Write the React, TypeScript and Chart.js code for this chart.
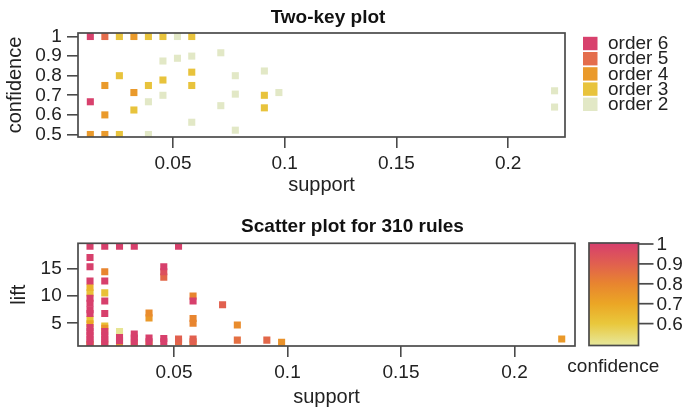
import React, { useEffect, useRef } from 'react';
import { Chart, registerables } from 'chart.js';

Chart.register(...registerables);

const FONT = '"Liberation Sans", Arial, Helvetica, sans-serif';
const TEXT = '#222222';
const AXIS = '#4a4a4a';

// ---------- Two-key plot ----------
const orderLabels = ['order 6', 'order 5', 'order 4', 'order 3', 'order 2'];
const orderValues = [6, 5, 4, 3, 2];
const orderColors = ['#d8416d', '#e46d4c', '#ea9a2b', '#e8c33c', '#e2e8c6'];

const twoKeySupport = [
  0.013, 0.0195, 0.026, 0.0325, 0.039, 0.0455, 0.052, 0.0584,
  0.0714, 0.052, 0.0455, 0.0584, 0.026, 0.0584, 0.0779, 0.0195,
  0.039, 0.0455, 0.0584, 0.0325, 0.0779, 0.0455, 0.039, 0.013,
  0.0325, 0.0714, 0.0195, 0.0584, 0.0779, 0.013, 0.0195, 0.026,
  0.039, 0.0909, 0.0909, 0.0909, 0.0974, 0.2208, 0.2208,
];
const twoKeyConfidence = [
  1, 1, 1, 1, 1, 1, 1, 1,
  0.917, 0.889, 0.875, 0.9, 0.8, 0.818, 0.8, 0.75,
  0.75, 0.778, 0.75, 0.714, 0.706, 0.7, 0.667, 0.667,
  0.625, 0.647, 0.6, 0.5625, 0.522, 0.5, 0.5, 0.5,
  0.5, 0.824, 0.7, 0.636, 0.714, 0.723, 0.64,
];
const twoKeyOrder = [
  6, 5, 3, 4, 3, 3, 2, 3,
  2, 2, 2, 2, 3, 3, 2, 4,
  3, 3, 3, 4, 2, 2, 2, 6,
  3, 2, 4, 2, 2, 4, 4, 3,
  2, 2, 3, 3, 2, 2, 2,
];

// ---------- Scatter plot for 310 rules ----------
const scatterSupport = [
  0.013, 0.013, 0.013, 0.013, 0.013, 0.013, 0.013, 0.013, 0.013, 0.013, 0.013, 0.013, 0.013, 0.013, 0.013, 0.013, 0.013, 0.013, 0.013,
  0.0195, 0.0195, 0.0195, 0.0195, 0.0195, 0.0195, 0.0195, 0.0195, 0.0195, 0.0195, 0.0195, 0.0195, 0.0195,
  0.026, 0.026, 0.026, 0.026, 0.026,
  0.0325, 0.0325, 0.0325, 0.0325, 0.0325,
  0.039, 0.039, 0.039, 0.039, 0.039,
  0.0455, 0.0455, 0.0455, 0.0455, 0.0455,
  0.052, 0.052, 0.052,
  0.0584, 0.0584, 0.0584, 0.0584, 0.0584, 0.0584, 0.0584,
  0.0714,
  0.0779, 0.0779,
  0.0909,
  0.0974,
  0.2208,
];
const scatterLift = [
  19.2, 17.1, 15.4, 12.8, 11.6, 10.6, 9.6, 8.7, 7.5, 6.8, 5.7, 4.9, 4.2, 3.5, 2.8, 2.1, 1.5, 1.05, 1.0,
  19.2, 14.5, 12.8, 10.6, 9.1, 6.8, 4.5, 4.1, 3.5, 2.8, 2.1, 1.5, 1.05,
  19.2, 3.5, 2.4, 1.8, 1.05,
  19.2, 3.0, 2.3, 1.6, 1.05,
  6.9, 6.0, 2.3, 1.6, 1.05,
  15.4, 14.5, 13.5, 2.2, 1.6,
  19.2, 2.1, 1.6,
  10.0, 9.1, 5.9, 5.0, 2.1, 1.6, 1.05,
  8.4,
  4.7, 1.9,
  1.9,
  1.5,
  2.1,
];
const scatterConfidence = [
  1, 1, 1, 1, 0.66, 0.62, 1, 1, 1, 1, 0.62, 0.7, 1, 1, 1, 1, 1, 0.75, 0.72,
  1, 0.8, 1, 0.62, 1, 1, 0.62, 0.75, 1, 1, 1, 1, 0.8,
  1, 0.5, 1, 1, 0.72,
  1, 1, 1, 1, 0.66,
  0.78, 0.74, 1, 1, 0.7,
  1, 0.95, 0.88, 1, 1,
  1, 0.9, 0.88,
  0.8, 1, 0.8, 0.8, 0.9, 0.9, 0.62,
  0.9,
  0.78, 0.86,
  0.88,
  0.76,
  0.74,
];

// ---------- ticks / scales ----------
const supportTicks = [0.05, 0.1, 0.15, 0.2];
const supportTickLabels = ['0.05', '0.1', '0.15', '0.2'];
const confidenceTicks = [0.5, 0.6, 0.7, 0.8, 0.9, 1];
const confidenceTickLabels = ['0.5', '0.6', '0.7', '0.8', '0.9', '1'];
const liftTicks = [5, 10, 15];
const liftTickLabels = ['5', '10', '15'];
const colorbarTicks = [1, 0.9, 0.8, 0.7, 0.6];
const colorbarTickLabels = ['1', '0.9', '0.8', '0.7', '0.6'];
const confStops = [0.5, 0.6, 0.7, 0.8, 0.9, 1.0];
const confStopColors = ['#e7e594', '#e9c83c', '#eba625', '#e8852f', '#e1604f', '#d7406c'];

function hexToRgb(h: string): number[] {
  const n = parseInt(h.slice(1), 16);
  return [(n >> 16) & 255, (n >> 8) & 255, n & 255];
}
function confColor(v: number): string {
  if (v <= confStops[0]) return confStopColors[0];
  for (let i = 1; i < confStops.length; i++) {
    if (v <= confStops[i]) {
      const t = (v - confStops[i - 1]) / (confStops[i] - confStops[i - 1]);
      const a = hexToRgb(confStopColors[i - 1]);
      const b = hexToRgb(confStopColors[i]);
      const c = a.map((x, k) => Math.round(x + (b[k] - x) * t));
      return `rgb(${c[0]},${c[1]},${c[2]})`;
    }
  }
  return confStopColors[confStops.length - 1];
}

const decorPlugin = {
  id: 'decor',
  afterDraw(chart: any, _args: any, opts: any) {
    const { ctx, chartArea: a } = chart;
    ctx.save();
    ctx.strokeStyle = AXIS;
    ctx.lineWidth = 1.7;
    ctx.strokeRect(a.left, a.top, a.right - a.left, a.bottom - a.top);

    ctx.fillStyle = '#111';
    ctx.font = `bold 19px ${FONT}`;
    ctx.textAlign = 'center';
    ctx.textBaseline = 'alphabetic';
    ctx.fillText(opts.title, opts.titleX, opts.titleY);

    if (opts.legend) {
      ctx.font = `19px ${FONT}`;
      ctx.textAlign = 'left';
      ctx.textBaseline = 'middle';
      orderLabels.forEach((lab, i) => {
        const cy = 43.5 + i * 15.2;
        ctx.fillStyle = orderColors[i];
        ctx.fillRect(583, cy - 6.7, 14.5, 13.4);
        ctx.fillStyle = TEXT;
        ctx.fillText(lab, 608, cy + 0.5);
      });
    }

    if (opts.colorbar) {
      const L = 589, R = 638.5, T = 38, B = 140.5;
      const vTop = 1.005, vBot = 0.49;
      const pos = (v: number) => T + ((vTop - v) / (vTop - vBot)) * (B - T);
      const grad = ctx.createLinearGradient(0, T, 0, B);
      grad.addColorStop(0, confStopColors[confStops.length - 1]);
      confStops.forEach((v, i) => {
        const off = Math.min(1, Math.max(0, (vTop - v) / (vTop - vBot)));
        grad.addColorStop(off, confStopColors[i]);
      });
      grad.addColorStop(1, confStopColors[0]);
      ctx.fillStyle = grad;
      ctx.fillRect(L, T, R - L, B - T);
      ctx.strokeStyle = AXIS;
      ctx.lineWidth = 1.7;
      ctx.strokeRect(L, T, R - L, B - T);
      ctx.font = `19px ${FONT}`;
      ctx.fillStyle = TEXT;
      ctx.textAlign = 'left';
      ctx.textBaseline = 'middle';
      colorbarTicks.forEach((v, i) => {
        const y = pos(v);
        ctx.beginPath();
        ctx.moveTo(R, y);
        ctx.lineTo(R + 15, y);
        ctx.stroke();
        ctx.fillText(colorbarTickLabels[i], R + 18, y + 1);
      });
      ctx.textAlign = 'center';
      ctx.textBaseline = 'alphabetic';
      ctx.fillText('confidence', 613.3, 166.7);
    }
    ctx.restore();
  },
};

function xScale(min: number, max: number, height: number, titlePad: number) {
  return {
    type: 'linear',
    min,
    max,
    afterBuildTicks: (s: any) => {
      s.ticks = supportTicks.map((v) => ({ value: v }));
    },
    afterFit: (s: any) => {
      s.height = height;
    },
    ticks: {
      callback: (_v: any, i: number) => supportTickLabels[i],
      font: { size: 19, family: FONT },
      color: TEXT,
      padding: 4.5,
      autoSkip: false,
      maxRotation: 0,
    },
    grid: { display: true, drawOnChartArea: false, drawTicks: true, tickLength: 11, color: AXIS, lineWidth: 1.6 },
    border: { display: false },
    title: { display: true, text: 'support', font: { size: 20, family: FONT }, color: TEXT, padding: { top: 0, bottom: titlePad } },
  };
}

function yScale(min: number, max: number, ticksArr: number[], labels: string[], title: string, titlePad: number) {
  return {
    type: 'linear',
    min,
    max,
    afterBuildTicks: (s: any) => {
      s.ticks = ticksArr.map((v) => ({ value: v }));
    },
    afterFit: (s: any) => {
      s.width = 78;
    },
    ticks: {
      callback: (_v: any, i: number) => labels[i],
      font: { size: 19, family: FONT },
      color: TEXT,
      padding: 5.3,
      autoSkip: false,
    },
    grid: { display: true, drawOnChartArea: false, drawTicks: true, tickLength: 11, color: AXIS, lineWidth: 1.6 },
    border: { display: false },
    title: { display: true, text: title, font: { size: 20, family: FONT }, color: TEXT, padding: { top: titlePad, bottom: 0 } },
  };
}

function topConfig(): any {
  const datasets = orderValues.map((ord, i) => ({
    label: orderLabels[i],
    data: twoKeySupport
      .map((s, j) => ({ x: s, y: twoKeyConfidence[j], o: twoKeyOrder[j] }))
      .filter((p) => p.o === ord),
    backgroundColor: orderColors[i],
    pointBackgroundColor: orderColors[i],
    pointBorderWidth: 0,
    pointRadius: 5,
    pointStyle: 'rect',
    showLine: false,
    clip: 0,
  }));
  return {
    type: 'scatter',
    data: { datasets },
    options: {
      responsive: false,
      animation: false,
      events: [],
      layout: { padding: { top: 33, right: 123, bottom: 0, left: 0 } },
      plugins: {
        legend: { display: false },
        tooltip: { enabled: false },
        decor: { title: 'Two-key plot', titleX: 328, titleY: 23.3, legend: true },
      },
      scales: {
        x: xScale(0.00748, 0.22547, 68, 7.4),
        y: yScale(0.4872, 1.0179, confidenceTicks, confidenceTickLabels, 'confidence', 3.8),
      },
    },
    plugins: [decorPlugin],
  };
}

function bottomConfig(): any {
  const idx = scatterSupport.map((_, i) => i).sort((a, b) => scatterConfidence[a] - scatterConfidence[b]);
  return {
    type: 'scatter',
    data: {
      datasets: [
        {
          label: 'rules',
          data: idx.map((i) => ({ x: scatterSupport[i], y: scatterLift[i] })),
          pointBackgroundColor: idx.map((i) => confColor(scatterConfidence[i])),
          pointBorderWidth: 0,
          pointRadius: 5,
          pointStyle: 'rect',
          showLine: false,
          clip: 0,
        },
      ],
    },
    options: {
      responsive: false,
      animation: false,
      events: [],
      layout: { padding: { top: 38.3, right: 113, bottom: 0, left: 0 } },
      plugins: {
        legend: { display: false },
        tooltip: { enabled: false },
        decor: { title: 'Scatter plot for 310 rules', titleX: 352.5, titleY: 26.7, colorbar: true },
      },
      scales: {
        x: xScale(0.00771, 0.22665, 69, 5.8),
        y: yScale(0.82, 19.73, liftTicks, liftTickLabels, 'lift', 7.2),
      },
    },
    plugins: [decorPlugin],
  };
}

export default function App() {
  const topRef = useRef<HTMLCanvasElement>(null);
  const botRef = useRef<HTMLCanvasElement>(null);
  useEffect(() => {
    document.body.style.margin = '0';
    const c1 = new Chart(topRef.current as HTMLCanvasElement, topConfig());
    const c2 = new Chart(botRef.current as HTMLCanvasElement, bottomConfig());
    return () => {
      c1.destroy();
      c2.destroy();
    };
  }, []);
  return (
    <div style={{ position: 'absolute', left: 0, top: 0, width: 688, height: 415, background: '#ffffff' }}>
      <canvas ref={topRef} width={688} height={205} style={{ position: 'absolute', left: 0, top: 0 }} />
      <canvas ref={botRef} width={688} height={210} style={{ position: 'absolute', left: 0, top: 205 }} />
    </div>
  );
}
